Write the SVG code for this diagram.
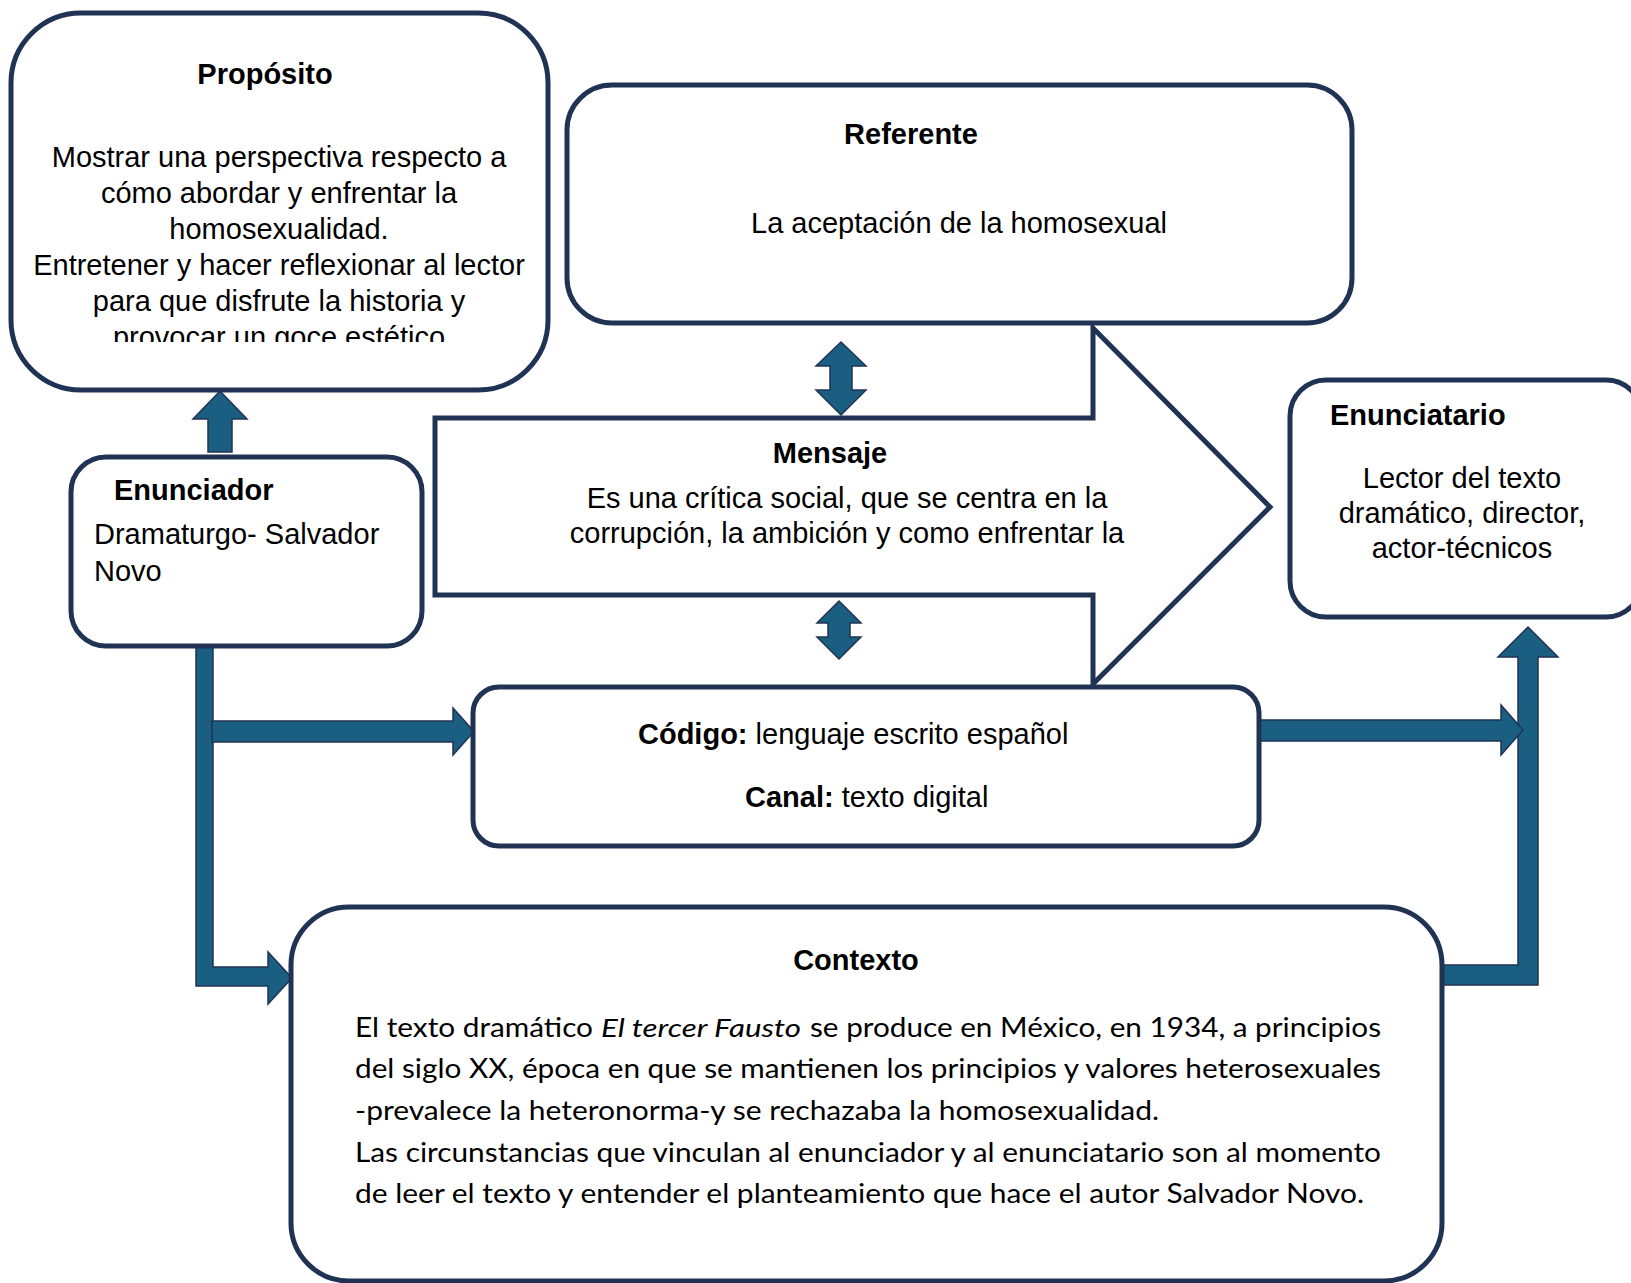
<svg xmlns="http://www.w3.org/2000/svg" width="1631" height="1283" viewBox="0 0 1631 1283">
<style>
.box{fill:#ffffff;stroke:#203354;stroke-width:5}
.conn{fill:#1a5f82;stroke:#203354;stroke-width:1.5;stroke-linejoin:miter}
.t{font-family:"Liberation Sans",Arial,sans-serif;font-size:29px;fill:#000}
.b{font-weight:bold}
.m{text-anchor:middle}
.c{font-family:Lato,"Liberation Sans",sans-serif;font-size:26px;fill:#000}
</style>
<defs>
<clipPath id="clipProp"><rect x="11" y="13" width="537" height="329"/></clipPath>
</defs>
<g id="connectors">
<path class="conn" d="M196,640 L213,640 L213,967 L268,967 L268,952 L292,978 L268,1004 L268,986 L196,986 Z"/>
<path class="conn" d="M212,721 L453,721 L453,708 L474,731.5 L453,755 L453,742 L212,742 Z"/>
<path class="conn" d="M1441,965 L1518,965 L1518,657 L1498,657 L1528,627 L1558,657 L1538,657 L1538,985 L1441,985 Z"/>
<path class="conn" d="M1258,720 L1501,720 L1501,705 L1523,730 L1501,755 L1501,741 L1258,741 Z"/>
<path class="conn" d="M208,452 L208,419 L193,419 L220,391 L247,419 L232,419 L232,452 Z"/>
<path class="conn" d="M841,342 L866,366 L852,366 L852,390 L866,390 L841,415 L816,390 L830,390 L830,366 L816,366 Z"/>
<path class="conn" d="M839,601 L861,623 L850,623 L850,637 L861,637 L839,659 L817,637 L828,637 L828,623 L817,623 Z"/>
</g>
<g id="proposito">
<rect class="box" x="11" y="13" width="537" height="377" rx="70"/>
<text class="t b m" x="265" y="84">Propósito</text>
<g clip-path="url(#clipProp)">
<text class="t m" x="279" y="167">Mostrar una perspectiva respecto a</text>
<text class="t m" x="279" y="203">cómo abordar y enfrentar la</text>
<text class="t m" x="279" y="239">homosexualidad.</text>
<text class="t m" x="279" y="275">Entretener y hacer reflexionar al lector</text>
<text class="t m" x="279" y="311">para que disfrute la historia y</text>
<text class="t m" x="279" y="347">provocar un goce estético</text>
</g>
</g>
<g id="referente">
<rect class="box" x="567" y="85" width="785" height="238" rx="45"/>
<text class="t b m" x="911" y="144">Referente</text>
<text class="t m" x="959" y="233">La aceptación de la homosexual</text>
</g>
<g id="mensaje">
<path class="box" d="M435,418 L1093,418 L1093,328 L1270,507 L1093,684 L1093,595 L435,595 Z"/>
<text class="t b m" x="830" y="463">Mensaje</text>
<text class="t m" x="847" y="508">Es una crítica social, que se centra en la</text>
<text class="t m" x="847" y="543">corrupción, la ambición y como enfrentar la</text>
</g>
<g id="enunciatario">
<rect class="box" x="1290" y="380" width="352" height="237" rx="36"/>
<text class="t b" x="1330" y="425">Enunciatario</text>
<text class="t m" x="1462" y="488">Lector del texto</text>
<text class="t m" x="1462" y="523">dramático, director,</text>
<text class="t m" x="1462" y="558">actor-técnicos</text>
</g>
<g id="enunciador">
<rect class="box" x="71" y="457" width="351" height="189" rx="35"/>
<text class="t b" x="114" y="500">Enunciador</text>
<text class="t" x="94" y="544">Dramaturgo- Salvador</text>
<text class="t" x="94" y="581">Novo</text>
</g>
<g id="codigo">
<rect class="box" x="473" y="687" width="786" height="159" rx="26"/>
<text class="t" x="638" y="744"><tspan class="b">Código:</tspan> lenguaje escrito español</text>
<text class="t" x="745" y="807"><tspan class="b">Canal:</tspan> texto digital</text>
</g>
<g id="contexto">
<rect class="box" x="291" y="907" width="1151" height="374" rx="58"/>
<text class="t b m" x="856" y="970">Contexto</text>
<text class="c" x="355" y="1037" textLength="238" lengthAdjust="spacingAndGlyphs">El texto dramático</text>
<text class="c" x="601" y="1037" textLength="200" lengthAdjust="spacingAndGlyphs" font-style="italic">El tercer Fausto</text>
<text class="c" x="810" y="1037" textLength="571" lengthAdjust="spacingAndGlyphs">se produce en México, en 1934, a principios</text>
<text class="c" x="355" y="1078" textLength="1026" lengthAdjust="spacingAndGlyphs">del siglo XX, época en que se mantienen los principios y valores heterosexuales</text>
<text class="c" x="355" y="1120" textLength="804" lengthAdjust="spacingAndGlyphs">-prevalece la heteronorma-y se rechazaba la homosexualidad.</text>
<text class="c" x="355" y="1162" textLength="1026" lengthAdjust="spacingAndGlyphs">Las circunstancias que vinculan al enunciador y al enunciatario son al momento</text>
<text class="c" x="355" y="1203" textLength="1009" lengthAdjust="spacingAndGlyphs">de leer el texto y entender el planteamiento que hace el autor Salvador Novo.</text>
</g>
</svg>
